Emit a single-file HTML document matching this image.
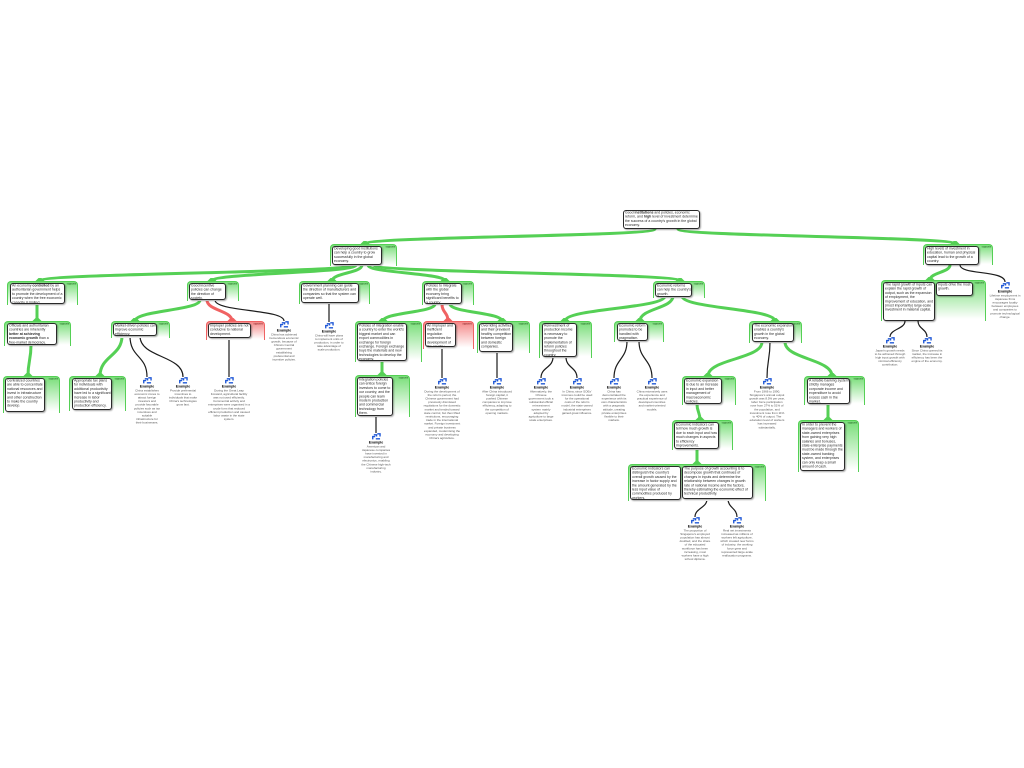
<!DOCTYPE html>
<html><head><meta charset="utf-8">
<style>
html,body{margin:0;padding:0}
body{width:1024px;height:768px;overflow:hidden;background:#fff;position:relative;font-family:"Liberation Sans",sans-serif}
svg.w{position:absolute;left:0;top:0}
.c{position:absolute;box-sizing:border-box;border:1.6px solid #55d055;border-bottom:0;border-radius:4px 4px 0 0;background:linear-gradient(#79de79,#ffffff 95%)}
.c.r{border-color:#ef6262;background:linear-gradient(#f48888,#ffffff 95%)}
.c i{position:absolute;right:1px;top:0.5px;font-style:normal;font-size:5px;line-height:5px;transform:scale(.5);transform-origin:100% 0;color:#1d5a1d;white-space:nowrap}
.c.r i{color:#7a1a1a}
.k{position:absolute;box-sizing:border-box;background:#fff;border:1.3px solid #2a2a2a;border-radius:3px;box-shadow:1px 1px 1.5px rgba(0,0,0,.35);overflow:hidden}
.k div{position:absolute;left:1px;top:0.3px;width:calc(200% - 2px);font-size:7px;line-height:8.4px;transform:scale(.5);transform-origin:0 0;color:#2a2a2a}
.e{position:absolute;text-align:center}
.e svg{display:block;margin:0 auto}
.e div{width:200%;transform:scale(.5);transform-origin:0 0;font-size:6px;line-height:7.2px;color:#555;margin-top:1px}
.e b{display:block;color:#000;font-size:7px;line-height:8.5px}
</style></head><body>

<svg class="w" width="1024" height="768" viewBox="0 0 1024 768">
<defs>
<g id="ic"><path d="M.7 6V3.3h2.3M1.7 1.6h2.6v1.7M5 .7h2.6v2.6M3.6 5.4h4" stroke="#1f57d6" stroke-width="1.3" fill="none"/></g>
</defs>
<g fill="none" stroke="#55d055" stroke-width="3" stroke-linecap="round">
<path d="M655 229C655 236.5 365 236.5 365 244"/>
<path d="M678 229C678 236.5 955 236.5 955 244"/>
<path d="M350 265C350 273 40 273 40 281"/>
<path d="M356 265C356 273 212 273 212 281"/>
<path d="M362 265C362 273 332 273 332 281"/>
<path d="M368 265C368 273 445 273 445 281"/>
<path d="M374 265C374 273 680 273 680 281"/>
<path d="M37 304L37 321"/>
<path d="M31 345C31 360 28 361 28 376"/>
<path d="M200 300C200 310.5 135 310.5 135 321"/>
<path d="M122 336C122 356 100 356 100 376"/>
<path d="M435 304C435 312.5 383 312.5 383 321"/>
<path d="M450 304C450 312.5 502 312.5 502 321"/>
<path d="M382 361L382 375"/>
<path d="M665 296C665 308.5 565 308.5 565 321"/>
<path d="M673 296C673 308.5 640 308.5 640 321"/>
<path d="M682 296C682 308.5 775 308.5 775 321"/>
<path d="M762 342C762 359 708 359 708 376"/>
<path d="M785 342C785 359 832 359 832 376"/>
<path d="M697 404C697 412 700 412 700 420"/>
<path d="M697 449L697 464"/>
<path d="M828 404L828 420"/>
<path d="M950 265C950 272.5 930 272.5 930 280"/>
</g>
<g fill="#55d055">
<polygon points="363.5,241 366.5,241 370,244.5 360,244.5"/>
<polygon points="953.5,241 956.5,241 960,244.5 950,244.5"/>
<polygon points="38.5,278 41.5,278 45,281.5 35,281.5"/>
<polygon points="210.5,278 213.5,278 217,281.5 207,281.5"/>
<polygon points="330.5,278 333.5,278 337,281.5 327,281.5"/>
<polygon points="443.5,278 446.5,278 450,281.5 440,281.5"/>
<polygon points="678.5,278 681.5,278 685,281.5 675,281.5"/>
<polygon points="35.5,318 38.5,318 42,321.5 32,321.5"/>
<polygon points="26.5,373 29.5,373 33,376.5 23,376.5"/>
<polygon points="133.5,318 136.5,318 140,321.5 130,321.5"/>
<polygon points="98.5,373 101.5,373 105,376.5 95,376.5"/>
<polygon points="381.5,318 384.5,318 388,321.5 378,321.5"/>
<polygon points="500.5,318 503.5,318 507,321.5 497,321.5"/>
<polygon points="380.5,372 383.5,372 387,375.5 377,375.5"/>
<polygon points="563.5,318 566.5,318 570,321.5 560,321.5"/>
<polygon points="638.5,318 641.5,318 645,321.5 635,321.5"/>
<polygon points="773.5,318 776.5,318 780,321.5 770,321.5"/>
<polygon points="706.5,373 709.5,373 713,376.5 703,376.5"/>
<polygon points="830.5,373 833.5,373 837,376.5 827,376.5"/>
<polygon points="698.5,417 701.5,417 705,420.5 695,420.5"/>
<polygon points="695.5,461 698.5,461 702,464.5 692,464.5"/>
<polygon points="826.5,417 829.5,417 833,420.5 823,420.5"/>
<polygon points="928.5,277 931.5,277 935,280.5 925,280.5"/>
</g>
<g fill="none" stroke="#f06262" stroke-width="3" stroke-linecap="round">
<path d="M207 300C207 310.5 232 310.5 232 321"/>
<path d="M442 304C442 312.5 448 312.5 448 321"/>
</g>
<g fill="#f06262">
<polygon points="230.5,318 233.5,318 237,321.5 227,321.5"/>
<polygon points="446.5,318 449.5,318 453,321.5 443,321.5"/>
</g>
<g fill="none" stroke="#1c1c1c" stroke-width="1.2">
<path d="M215 300C215 312 284 309 284 321"/>
<path d="M329 303L329 322"/>
<path d="M130 336C130 358 147 355 147 377"/>
<path d="M140 336C140 358 183 355 183 377"/>
<path d="M229 338L229 377"/>
<path d="M376 416L376 433"/>
<path d="M442 347L442 378"/>
<path d="M497 352L497 378"/>
<path d="M553 357C553 368 541 367 541 378"/>
<path d="M566 357C566 368 577 367 577 378"/>
<path d="M627 341C627 360 614 359 614 378"/>
<path d="M639 341C639 360 652 359 652 378"/>
<path d="M770 342C770 360 767 360 767 378"/>
<path d="M707 499C707 508 695 508 695 517"/>
<path d="M728 499C728 508 737 508 737 517"/>
<path d="M905 321C905 329 890 329 890 337"/>
<path d="M918 321C918 329 927 329 927 337"/>
<path d="M960 265C960 275 1005 270 1005 282"/>
</g>
</svg>

<!-- containers -->
<div class="c" style="left:330px;top:244px;width:67px;height:22px"><i>supports</i></div>
<div class="c" style="left:923px;top:244px;width:70px;height:21px"><i>supports</i></div>
<div class="c" style="left:7px;top:281px;width:71px;height:24px"><i>supports</i></div>
<div class="c" style="left:187px;top:281px;width:52px;height:20px"><i>supports</i></div>
<div class="c" style="left:299px;top:281px;width:71px;height:23px"><i>supports</i></div>
<div class="c" style="left:422px;top:281px;width:52px;height:24px"><i>supports</i></div>
<div class="c" style="left:653px;top:281px;width:52px;height:17px"><i>supports</i></div>
<div class="c" style="left:881px;top:280px;width:105px;height:41px"><i>supports</i></div>
<div class="c" style="left:4px;top:321px;width:67px;height:25px"><i>supports</i></div>
<div class="c" style="left:111px;top:321px;width:59px;height:17px"><i>supports</i></div>
<div class="c r" style="left:206px;top:321px;width:59px;height:19px"><i>opposes</i></div>
<div class="c" style="left:355px;top:321px;width:67px;height:41px"><i>supports</i></div>
<div class="c r" style="left:423px;top:321px;width:51px;height:28px"><i>opposes</i></div>
<div class="c" style="left:477px;top:321px;width:53px;height:32px"><i>supports</i></div>
<div class="c" style="left:539px;top:321px;width:53px;height:37px"><i>supports</i></div>
<div class="c" style="left:614px;top:321px;width:50px;height:21px"><i>supports</i></div>
<div class="c" style="left:749px;top:321px;width:53px;height:22px"><i>supports</i></div>
<div class="c" style="left:3px;top:376px;width:57px;height:37px"><i>supports</i></div>
<div class="c" style="left:69px;top:376px;width:57px;height:35px"><i>supports</i></div>
<div class="c" style="left:355px;top:375px;width:55px;height:42px"><i>supports</i></div>
<div class="c" style="left:682px;top:376px;width:54px;height:29px"><i>supports</i></div>
<div class="c" style="left:804px;top:376px;width:61px;height:29px"><i>supports</i></div>
<div class="c" style="left:672px;top:420px;width:61px;height:30px"><i>supports</i></div>
<div class="c" style="left:798px;top:420px;width:61px;height:52px"><i>supports</i></div>
<div class="c" style="left:628px;top:464px;width:138px;height:37px"><i>supports</i></div>

<!-- claims -->
<div class="k" style="left:623px;top:210px;width:77px;height:19px"><div>Good <b>institutions</b> and policies, economic reform, and <b>high</b> level of investment determine the success of a country's growth in the global economy.</div></div>
<div class="k" style="left:332px;top:246px;width:50px;height:19px"><div>Developing good institutions can help a country to grow successfully in the global economy.</div></div>
<div class="k" style="left:925px;top:246px;width:54px;height:19px"><div>High levels of investment in education, human and physical capital lead to the growth of a country.</div></div>
<div class="k" style="left:10px;top:283px;width:55px;height:21px"><div>An economy <b>controlled</b> by an authoritarian government helps to promote the development of a country when the free economic capacity is limited.</div></div>
<div class="k" style="left:189px;top:283px;width:37px;height:17px"><div>Good incentive policies can change the direction of society.</div></div>
<div class="k" style="left:301px;top:283px;width:58px;height:20px"><div>Government planning can guide the direction of manufacturers and companies so that the system can operate well.</div></div>
<div class="k" style="left:424px;top:283px;width:38px;height:21px"><div>Policies to integrate with the global economy bring significant benefits to a country.</div></div>
<div class="k" style="left:655px;top:283px;width:37px;height:14px"><div>Economic reforms can help the country's growth.</div></div>
<div class="k" style="left:883px;top:282px;width:52px;height:39px"><div>The rapid growth of inputs can explain the rapid growth of output, such as the expansion of employment, the improvement of education, and (most importantly) large-scale investment in material capital.</div></div>
<div class="k" style="left:936px;top:282px;width:37px;height:14px"><div>Inputs drive the most growth.</div></div>
<div class="k" style="left:7px;top:323px;width:50px;height:22px"><div>Officials and authoritarian countries are inherently <b>better at achieving economic growth</b> than a free-market democracy.</div></div>
<div class="k" style="left:113px;top:323px;width:44px;height:13px"><div>Market-driven policies can improve economic efficiency.</div></div>
<div class="k" style="left:208px;top:323px;width:43px;height:15px"><div>Improper policies are not conducive to national development.</div></div>
<div class="k" style="left:357px;top:323px;width:50px;height:38px"><div>Policies of integration enable a country to enter the world's biggest market and can export commodities in exchange for foreign exchange. Foreign exchange buys the materials and new technologies to develop the economy.</div></div>
<div class="k" style="left:425px;top:323px;width:31px;height:24px"><div>An improper and inefficient regulation undermines the development of the country.</div></div>
<div class="k" style="left:479px;top:323px;width:34px;height:29px"><div>Overriding activities and their prevalent healthy competition between foreign and domestic companies.</div></div>
<div class="k" style="left:542px;top:323px;width:35px;height:34px"><div>Reinvestment of production income is necessary to promote the implementation of reform policies throughout the country.</div></div>
<div class="k" style="left:617px;top:323px;width:31px;height:18px"><div>Economic reform promotes to be handled with pragmatism.</div></div>
<div class="k" style="left:752px;top:323px;width:42px;height:19px"><div>The economic expansion enables a country's growth in the global economy.</div></div>
<div class="k" style="left:5px;top:378px;width:40px;height:34px"><div>Centralized countries are able to concentrate national resources and invest in infrastructure and other construction to make the country develop.</div></div>
<div class="k" style="left:72px;top:378px;width:40px;height:32px"><div>Appropriate tax plans for individuals with additional productivity have led to a significant increase in labor productivity and production efficiency.</div></div>
<div class="k" style="left:357px;top:377px;width:36px;height:39px"><div>Integration policies can entice foreign investors to come to our country, and the people can learn modern production and commercial technology from them.</div></div>
<div class="k" style="left:684px;top:378px;width:38px;height:26px"><div>Economic expansion is due to an increase in input and better management of macroeconomic policies.</div></div>
<div class="k" style="left:807px;top:378px;width:43px;height:26px"><div>A reliable banking system strictly manages corporate income and expenditure to avoid excess cash in the market.</div></div>
<div class="k" style="left:674px;top:422px;width:45px;height:27px"><div>Economic indicators can tell how much growth is due to each input and how much changes in aspects to efficiency improvements.</div></div>
<div class="k" style="left:800px;top:422px;width:45px;height:49px"><div>In order to prevent the managers and workers of state-owned enterprises from gaining very high salaries and bonuses, state-enterprise payments must be made through the state-owned banking system, and enterprises can only keep a small amount of cash.</div></div>
<div class="k" style="left:630px;top:466px;width:51px;height:34px"><div>Economic indicators can distinguish the country's overall growth caused by the increase in factor supply and the amount generated by the less input value of commodities produced by workers.</div></div>
<div class="k" style="left:682px;top:466px;width:71px;height:33px"><div>The purpose of growth accounting is to decompose growth that continues of changes in inputs and determine the relationship between changes in growth rate of national income and the factors, thereby estimating the economic effect of technical productivity.</div></div>

<!-- examples -->
<div class="e" style="left:269px;top:321px;width:30px"><svg width="9" height="7" viewBox="0 0 8.5 6.5"><use href="#ic"/></svg><div><b>Example</b>China has achieved tremendous economic growth, because of China's Central government establishing preferential and incentive policies.</div></div>
<div class="e" style="left:314px;top:322px;width:30px"><svg width="9" height="7" viewBox="0 0 8.5 6.5"><use href="#ic"/></svg><div><b>Example</b>China will have plans to implement units of production, in order to take advantage of scale production.</div></div>
<div class="e" style="left:133px;top:377px;width:28px"><svg width="9" height="7" viewBox="0 0 8.5 6.5"><use href="#ic"/></svg><div><b>Example</b>China establishes economic zones to attract foreign investors and provide favorable policies such as tax incentives and suitable infrastructure for their businesses.</div></div>
<div class="e" style="left:168px;top:377px;width:30px"><svg width="9" height="7" viewBox="0 0 8.5 6.5"><use href="#ic"/></svg><div><b>Example</b>Provide preferential incentives to individuals that make China's technologies grow fast.</div></div>
<div class="e" style="left:208px;top:377px;width:42px"><svg width="9" height="7" viewBox="0 0 8.5 6.5"><use href="#ic"/></svg><div><b>Example</b>During the Great Leap Forward, agricultural facility was not used efficiently. Commercial activity and enterprises were organised in a crude form that reduced efficient production and caused labor waste in the state system.</div></div>
<div class="e" style="left:361px;top:433px;width:30px"><svg width="9" height="7" viewBox="0 0 8.5 6.5"><use href="#ic"/></svg><div><b>Example</b>American and Japanese companies have invested in manufacturing and electronics, enabling the Chinese high-tech manufacturing industry.</div></div>
<div class="e" style="left:422px;top:378px;width:40px"><svg width="9" height="7" viewBox="0 0 8.5 6.5"><use href="#ic"/></svg><div><b>Example</b>During the development of the reform period, the Chinese government had previously dismissed regulations for the domestic market and tended toward state control, but then lifted restrictions, encouraging trade in the international market. Foreign investment and private business expanded, modernising the economy and developing China's agriculture.</div></div>
<div class="e" style="left:482px;top:378px;width:30px"><svg width="9" height="7" viewBox="0 0 8.5 6.5"><use href="#ic"/></svg><div><b>Example</b>After China introduced foreign capital, it pushed Chinese companies to improve efficiency, adapting to the competition of opening markets.</div></div>
<div class="e" style="left:528px;top:378px;width:26px"><svg width="9" height="7" viewBox="0 0 8.5 6.5"><use href="#ic"/></svg><div><b>Example</b>Alternatively, the Chinese government took a substantial official reinvestment system mainly adopted by agriculture to large scale enterprises.</div></div>
<div class="e" style="left:561px;top:378px;width:32px"><svg width="9" height="7" viewBox="0 0 8.5 6.5"><use href="#ic"/></svg><div><b>Example</b>In China, since SOEs' incomes could be used for the operational costs of the reform model, the state-owned industrial enterprises gained great influence.</div></div>
<div class="e" style="left:599px;top:378px;width:30px"><svg width="9" height="7" viewBox="0 0 8.5 6.5"><use href="#ic"/></svg><div><b>Example</b>China has demonstrated the experience with its own characteristics with a pragmatic attitude, creating private enterprises flexible to their markets.</div></div>
<div class="e" style="left:636px;top:378px;width:32px"><svg width="9" height="7" viewBox="0 0 8.5 6.5"><use href="#ic"/></svg><div><b>Example</b>China extensively uses the experience and practical experience of developed countries and market-oriented models.</div></div>
<div class="e" style="left:749px;top:378px;width:36px"><svg width="9" height="7" viewBox="0 0 8.5 6.5"><use href="#ic"/></svg><div><b>Example</b>From 1966 to 1990, Singapore's annual output growth was 8.5% per year, labor force participation rose from 27% to 51% of the population, and investment rose from 11% to 40% of output. The education level of workers has increased substantially.</div></div>
<div class="e" style="left:679px;top:517px;width:32px"><svg width="9" height="7" viewBox="0 0 8.5 6.5"><use href="#ic"/></svg><div><b>Example</b>The proportion of Singapore's employed population has almost doubled, and the share of the educated workforce has been increasing, most workers have a high school diploma.</div></div>
<div class="e" style="left:720px;top:517px;width:34px"><svg width="9" height="7" viewBox="0 0 8.5 6.5"><use href="#ic"/></svg><div><b>Example</b>Real net investments increased as millions of workers left agriculture, which created new forms of industry; the working force grew and represented large-scale reallocation programs.</div></div>
<div class="e" style="left:874px;top:337px;width:32px"><svg width="9" height="7" viewBox="0 0 8.5 6.5"><use href="#ic"/></svg><div><b>Example</b>Japan's growth needs to be achieved through high input growth with minimal efficiency contribution.</div></div>
<div class="e" style="left:911px;top:337px;width:32px"><svg width="9" height="7" viewBox="0 0 8.5 6.5"><use href="#ic"/></svg><div><b>Example</b>Since China opened its market, the increase in efficiency has been the engine of the economy.</div></div>
<div class="e" style="left:989px;top:282px;width:32px"><svg width="9" height="7" viewBox="0 0 8.5 6.5"><use href="#ic"/></svg><div><b>Example</b>Lifetime employment in Japanese firms encourages loyalty between employees and companies to promote technological change.</div></div>

</body></html>
